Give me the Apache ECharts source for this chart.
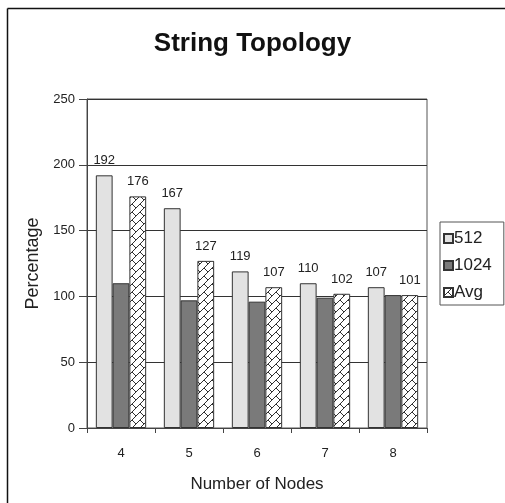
<!DOCTYPE html>
<html>
<head>
<meta charset="utf-8">
<script src="https://cdn.jsdelivr.net/npm/echarts@6/dist/echarts.min.js"></script>
<style>
  html, body { margin: 0; padding: 0; background: #fff; }
  #chart { width: 505px; height: 503px; }
</style>
</head>
<body>
<div id="chart"></div>
<script>
// Chart data
const categories = ['4', '5', '6', '7', '8'];
const values512 = [192, 167, 119, 110, 107];
const values1024 = [110, 97, 96, 99, 101];
const valuesAvg = [176, 127, 107, 102, 101];
const yTicks = [0, 50, 100, 150, 200, 250];

// 8x8 diagonal brick hatch (pixel rows) used to fill the "Avg" bars
function makeHatch() {
  const rows = [[7], [6], [5], [4], [3, 4], [2, 5], [1, 6], [0, 7]];
  const c = document.createElement('canvas');
  c.width = 8; c.height = 8;
  const g = c.getContext('2d');
  g.fillStyle = '#ffffff';
  g.fillRect(0, 0, 8, 8);
  g.fillStyle = '#303030';
  rows.forEach((cols, r) => cols.forEach(col => g.fillRect(col, r, 1, 1)));
  return c;
}
const hatch = { image: makeHatch(), repeat: 'repeat' };

const font = 'Liberation Sans, Arial, sans-serif';
const chart = echarts.init(document.getElementById('chart'), null, { renderer: 'canvas' });

const labelStyle = { show: true, position: 'top', distance: 8, color: '#222', fontSize: 13, fontFamily: font };

chart.setOption({
  animation: false,
  backgroundColor: '#ffffff',
  title: {
    text: 'String Topology',
    left: 'center',
    top: 26,
    textStyle: { fontFamily: font, fontSize: 26, fontWeight: 'bold', color: '#111' }
  },
  legend: {
    orient: 'vertical',
    left: 440,
    top: 222,
    padding: [8, 12, 4, 3],
    icon: 'rect',
    itemWidth: 9,
    itemHeight: 9,
    itemGap: 10,
    borderColor: '#555',
    borderWidth: 1,
    textStyle: { fontFamily: font, fontSize: 17, color: '#222', padding: [0, 0, 0, -4] },
    data: ['512', '1024', 'Avg']
  },
  grid: { left: 87, right: 78, top: 99, bottom: 75, show: true, borderColor: '#555', borderWidth: 1 },
  xAxis: {
    type: 'category',
    data: categories,
    name: 'Number of Nodes',
    nameLocation: 'middle',
    nameGap: 48,
    nameTextStyle: { fontFamily: font, fontSize: 17, color: '#222' },
    axisLine: { lineStyle: { color: '#444' } },
    axisTick: { show: true, length: 5, lineStyle: { color: '#444' } },
    axisLabel: { fontFamily: font, fontSize: 13, color: '#222', margin: 19 }
  },
  yAxis: {
    type: 'value',
    min: yTicks[0],
    max: yTicks[yTicks.length - 1],
    interval: 50,
    name: 'Percentage',
    nameLocation: 'middle',
    nameGap: 45,
    nameTextStyle: { fontFamily: font, fontSize: 18, color: '#222' },
    axisLine: { show: true, lineStyle: { color: '#444' } },
    axisTick: { show: true, length: 8, lineStyle: { color: '#444' } },
    axisLabel: { fontFamily: font, fontSize: 13, color: '#222', margin: 12 },
    splitLine: { show: true, lineStyle: { color: '#333', width: 1 } }
  },
  series: [
    {
      name: '512', type: 'bar', data: values512,
      barGap: '0%', barCategoryGap: '26%',
      itemStyle: { color: '#e2e2e2', borderColor: '#333', borderWidth: 1 },
      label: labelStyle
    },
    {
      name: '1024', type: 'bar', data: values1024,
      itemStyle: { color: '#7a7a7a', borderColor: '#333', borderWidth: 1 }
    },
    {
      name: 'Avg', type: 'bar', data: valuesAvg,
      itemStyle: { color: hatch, borderColor: '#333', borderWidth: 1 },
      label: labelStyle
    }
  ],
  graphic: [
    { type: 'line', shape: { x1: 7.5, y1: 8.5, x2: 505, y2: 8.5 }, style: { stroke: '#111', lineWidth: 1.5 } },
    { type: 'line', shape: { x1: 7.5, y1: 8.5, x2: 7.5, y2: 503 }, style: { stroke: '#111', lineWidth: 1.5 } }
  ]
});
</script>
</body>
</html>
